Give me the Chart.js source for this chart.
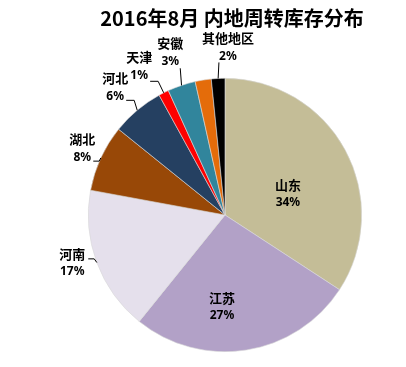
<!DOCTYPE html>
<html>
<head>
<meta charset="utf-8">
<script src="https://cdn.jsdelivr.net/npm/chart.js@4.4.1/dist/chart.umd.min.js"></script>
<style>
  html,body{ margin:0; padding:0; background:#fff; }
  #wrap{ width:406px; height:367px; }
</style>
</head>
<body>
<div id="wrap"><canvas id="pie" width="406" height="367"></canvas></div>
<script>
// ---- datos ----
const title = '2016年8月 内地周转库存分布';
const categories = ['山东', '江苏', '河南', '湖北', '河北', '天津', '安徽', '', '其他地区'];
const values = [34.2, 26.6, 17.1, 7.9, 6.2, 1.2, 3.3, 1.9, 1.6];
const colors = ['#C4BD97', '#B2A1C7', '#E5E0EC', '#984807', '#254061', '#FF0000', '#31859C', '#E46C0A', '#000000'];

// posición de etiquetas (polar, relativo al centro: r en radios, a en grados) + guía
const layout = [
  { r:0.485, a:-18.4 },
  { r:0.672, a:91.9 },
  { r:1.171, a:162.6, lead:[16,-4,6] },
  { r:1.153, a:205.1, lead:[11,13,6] },
  { r:1.232, a:229.3, lead:[11,13,8] },
  { r:1.256, a:240.0, lead:[11,15,8] },
  { r:1.256, a:251.4, lead:[10,16,0] },
  null,
  { r:1.226, a:271.0, lead:[-9,15,0] }
];

const CJK = '"Noto Sans CJK SC", "Noto Sans", sans-serif';

const sliceLabels = {
  id:'sliceLabels',
  afterDatasetsDraw(chart){
    const ctx = chart.ctx;
    const meta = chart.getDatasetMeta(0);
    const total = values.reduce((a,b)=>a+b,0);
    ctx.save();
    ctx.textAlign = 'center';
    ctx.textBaseline = 'middle';
    meta.data.forEach((arc,i)=>{
      const L = layout[i];
      if(!L || !categories[i]) return;
      const p = arc.getProps(['x','y','startAngle','endAngle','outerRadius'], true);
      const rad = L.a*Math.PI/180;
      const cx = p.x + Math.cos(rad)*L.r*p.outerRadius;
      const cy = p.y + Math.sin(rad)*L.r*p.outerRadius;
      ctx.fillStyle = '#000';
      ctx.font = 'bold 13px ' + CJK;
      ctx.fillText(categories[i], cx, cy-9);
      ctx.font = 'bold 12px "Noto Sans", sans-serif';
      ctx.fillText(Math.round(values[i]/total*100) + '%', cx, cy+9);
      if(L.lead){
        const mid = (p.startAngle+p.endAngle)/2;
        const ex = p.x + Math.cos(mid)*p.outerRadius, ey = p.y + Math.sin(mid)*p.outerRadius;
        const sx = cx + L.lead[0], sy = cy + L.lead[1];
        ctx.strokeStyle = '#000'; ctx.lineWidth = 1;
        ctx.beginPath();
        ctx.moveTo(sx, sy);
        ctx.lineTo(sx + L.lead[2], sy);
        ctx.lineTo(ex, ey);
        ctx.stroke();
      }
    });
    // título
    const ca = chart.chartArea;
    ctx.font = 'bold 20px ' + CJK;
    ctx.fillStyle = '#000';
    ctx.fillText(title, (ca.left+ca.right)/2 + 7, 18);
    ctx.restore();
  }
};

new Chart(document.getElementById('pie'), {
  type:'pie',
  data:{ labels:categories, datasets:[{ data:values, backgroundColor:colors, borderWidth:0.6, borderColor:'#d8d8d8' }] },
  options:{
    responsive:false, animation:false,
    layout:{ padding:{ top:78, bottom:15, left:88, right:44 } },
    plugins:{ legend:{ display:false }, tooltip:{ enabled:false }, title:{ display:false } }
  },
  plugins:[sliceLabels]
});
</script>
</body>
</html>
